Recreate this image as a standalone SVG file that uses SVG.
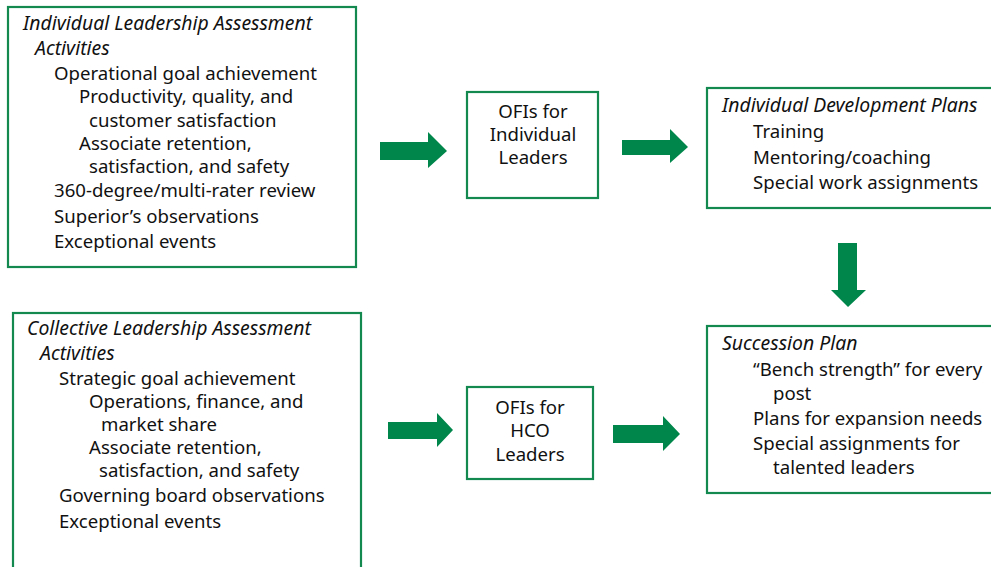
<svg xmlns="http://www.w3.org/2000/svg" width="991" height="567" viewBox="0 0 991 567">
<style>
.box{fill:#fff;stroke:#13894f;stroke-width:2.2}
.arr{fill:#00864b}
text{font-family:"Noto Sans","Open Sans","Liberation Sans",sans-serif;font-size:18.6px;fill:#111}
.t{font-style:italic;font-size:19.4px}
.c{text-anchor:middle}
</style>
<rect width="991" height="567" fill="#fff"/>
<g id="ind-assess">
<rect class="box" x="8" y="7" width="348" height="260"/>
<text class="t" x="23" y="29.5">Individual Leadership Assessment</text>
<text class="t" x="35" y="55">Activities</text>
<text x="54" y="79.5">Operational goal achievement</text>
<text x="79" y="103">Productivity, quality, and</text>
<text x="89" y="126.5">customer satisfaction</text>
<text x="79" y="149.5">Associate retention,</text>
<text x="89" y="172.5">satisfaction, and safety</text>
<text x="54" y="197">360-degree/multi-rater review</text>
<text x="54" y="223">Superior’s observations</text>
<text x="54" y="248">Exceptional events</text>
</g>
<g id="ofi-ind">
<rect class="box" x="467" y="92" width="131" height="106"/>
<text class="c" x="533" y="118">OFIs for</text>
<text class="c" x="533" y="141">Individual</text>
<text class="c" x="533" y="164">Leaders</text>
</g>
<g id="idp">
<rect class="box" x="707" y="88" width="290" height="120"/>
<text class="t" x="722" y="112">Individual Development Plans</text>
<text x="753" y="138">Training</text>
<text x="753" y="164">Mentoring/coaching</text>
<text x="753" y="189">Special work assignments</text>
</g>
<g id="col-assess">
<rect class="box" x="13" y="313" width="348" height="270"/>
<text class="t" x="27" y="334.5">Collective Leadership Assessment</text>
<text class="t" x="40" y="360">Activities</text>
<text x="59" y="384.5">Strategic goal achievement</text>
<text x="89" y="407.5">Operations, finance, and</text>
<text x="101" y="430.5">market share</text>
<text x="89" y="453.5">Associate retention,</text>
<text x="99" y="477">satisfaction, and safety</text>
<text x="59" y="502">Governing board observations</text>
<text x="59" y="528">Exceptional events</text>
</g>
<g id="ofi-hco">
<rect class="box" x="467" y="387" width="126" height="92"/>
<text class="c" x="530" y="414">OFIs for</text>
<text class="c" x="530" y="437">HCO</text>
<text class="c" x="530" y="461">Leaders</text>
</g>
<g id="succession">
<rect class="box" x="707" y="326" width="290" height="167"/>
<text class="t" x="722" y="350">Succession Plan</text>
<text x="753" y="376">“Bench strength” for every</text>
<text x="773" y="400">post</text>
<text x="753" y="425">Plans for expansion needs</text>
<text x="753" y="450">Special assignments for</text>
<text x="773" y="474">talented leaders</text>
</g>
<g id="connectors">
<polygon class="arr" points="380,142 428,142 428,132 447,151 428,168 428,160 380,160"/>
<polygon class="arr" points="622,140 670,140 670,129 688,147 670,163 670,155 622,155"/>
<polygon class="arr" points="838,243 857,243 857,290 866,290 848,307 831,290 838,290"/>
<polygon class="arr" points="388,422 437,422 437,413 453,430 437,447 437,439 388,439"/>
<polygon class="arr" points="613,425 663,425 663,416 680,434 663,451 663,443 613,443"/>
</g>
</svg>
